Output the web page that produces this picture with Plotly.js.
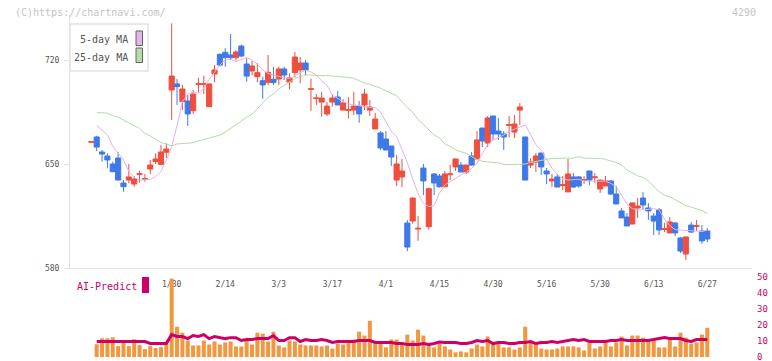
<!DOCTYPE html>
<html><head><meta charset="utf-8">
<script src="https://cdn.plot.ly/plotly-3.0.1.min.js"></script>
<style>html,body{margin:0;padding:0;background:#fff}#chart{width:772px;height:361px}</style>
</head><body><div id="chart"></div>
<script>
const dates = [
"2025-01-08","2025-01-09","2025-01-10","2025-01-14","2025-01-15","2025-01-16","2025-01-17","2025-01-20","2025-01-21","2025-01-22","2025-01-23","2025-01-24","2025-01-27","2025-01-28","2025-01-29","2025-01-30","2025-01-31",
"2025-02-03","2025-02-04","2025-02-05","2025-02-06","2025-02-07","2025-02-10","2025-02-12","2025-02-13","2025-02-14","2025-02-17","2025-02-18","2025-02-19","2025-02-20","2025-02-21","2025-02-25","2025-02-26","2025-02-27","2025-02-28",
"2025-03-03","2025-03-04","2025-03-05","2025-03-06","2025-03-07","2025-03-10","2025-03-11","2025-03-12","2025-03-13","2025-03-14","2025-03-17","2025-03-18","2025-03-19","2025-03-21","2025-03-24","2025-03-25","2025-03-26","2025-03-27","2025-03-28","2025-03-31",
"2025-04-01","2025-04-02","2025-04-03","2025-04-04","2025-04-07","2025-04-08","2025-04-09","2025-04-10","2025-04-11","2025-04-14","2025-04-15","2025-04-16","2025-04-17","2025-04-18","2025-04-21","2025-04-22","2025-04-23","2025-04-24","2025-04-25","2025-04-28","2025-04-30",
"2025-05-01","2025-05-02","2025-05-07","2025-05-08","2025-05-09","2025-05-12","2025-05-13","2025-05-14","2025-05-15","2025-05-16","2025-05-19","2025-05-20","2025-05-21","2025-05-22","2025-05-23","2025-05-26","2025-05-27","2025-05-28","2025-05-29","2025-05-30",
"2025-06-02","2025-06-03","2025-06-04","2025-06-05","2025-06-06","2025-06-09","2025-06-10","2025-06-11","2025-06-12","2025-06-13","2025-06-16","2025-06-17","2025-06-18","2025-06-19","2025-06-20","2025-06-23","2025-06-24","2025-06-25","2025-06-26","2025-06-27"];

const openP = [664.6,
668.2,658.1,655.4,650.0,654.0,637.2,639.2,636.5,643.0,639.7,
646.6,651.6,649.8,657.9,699.8,703.9,692.0,692.4,685.9,703.6,
703.6,688.6,710.6,723.8,725.2,723.4,721.6,729.4,717.3,712.6,
708.8,706.1,705.0,707.0,707.2,714.0,705.2,711.5,713.3,718.0,
700.2,694.0,691.7,683.7,691.7,695.1,686.3,686.1,686.3,689.0,
689.7,686.3,673.6,670.9,666.8,662.1,639.2,641.3,610.3,611.6,
606.2,647.3,607.8,643.3,641.9,634.7,642.8,648.0,649.3,644.6,
655.4,653.4,674.2,664.1,682.3,672.2,670.2,676.0,671.5,686.3,
668.2,649.3,651.3,657.4,645.3,638.6,641.3,635.6,631.2,641.3,
641.3,639.0,645.3,640.8,633.2,635.2,638.6,629.8,618.4,614.3,
609.6,620.4,627.1,620.4,615.0,619.1,606.0,603.6,610.3,600.2,
589.4,608.9,608.0,604.9,604.9];
const highP = [665.0,
669.0,659.4,657.2,651.6,658.1,639.2,650.0,641.9,645.5,643.3,
652.7,657.2,662.8,663.9,744.7,707.2,703.2,696.5,699.8,708.1,
709.5,704.3,716.6,724.5,727.9,737.5,726.7,730.5,721.1,719.3,
717.8,708.8,723.4,715.5,715.5,715.5,711.0,725.4,722.0,720.0,
707.5,697.1,698.5,691.7,697.1,699.1,693.7,695.1,698.5,692.4,
700.5,693.1,684.3,672.2,672.2,662.1,656.1,653.4,612.3,627.6,
615.0,650.0,634.1,643.9,643.3,645.3,649.3,653.6,651.3,649.5,
658.1,672.2,674.4,682.3,682.5,681.0,672.2,682.3,683.0,691.1,
668.4,654.0,657.4,657.6,647.3,643.3,643.3,641.9,653.4,644.0,
641.9,641.9,645.5,643.9,639.4,641.9,639.2,635.2,620.4,617.0,
624.0,627.1,631.2,623.8,617.0,620.4,610.3,614.3,611.0,600.9,
601.1,611.0,612.3,608.9,606.9];
const lowP = [664.4,
658.7,651.6,647.1,644.8,639.2,631.4,637.0,634.7,637.4,638.1,
643.3,650.0,649.3,653.8,679.6,689.7,686.4,675.6,683.7,698.3,
697.1,688.6,705.0,715.5,715.5,720.0,719.6,721.8,705.4,709.9,
705.0,693.8,703.2,703.2,703.2,706.5,700.3,708.3,704.3,709.9,
685.8,689.7,681.9,682.3,688.6,689.7,686.3,680.5,683.0,677.8,
686.3,682.3,673.6,659.4,659.4,648.7,635.2,634.5,591.4,609.8,
598.2,629.1,605.8,629.1,634.1,634.3,639.2,645.3,644.6,643.3,
648.7,652.7,661.4,661.4,666.2,666.2,659.4,668.0,667.5,676.3,
639.2,647.3,644.6,642.6,636.5,634.5,634.5,632.5,631.2,633.9,
633.9,636.5,635.9,637.2,630.5,635.2,629.1,623.1,613.7,608.3,
609.6,613.7,619.7,612.3,602.2,602.2,604.2,603.6,601.5,590.1,
585.4,603.6,604.9,596.2,597.5];
const closeP = [665.0,
661.4,656.7,652.7,644.8,639.2,634.7,641.3,639.9,643.5,640.1,
649.3,653.4,658.1,660.1,709.2,702.1,700.5,683.7,697.1,704.1,
704.1,703.9,713.3,716.6,721.6,721.6,725.4,722.7,709.2,716.0,
711.5,703.2,711.7,704.8,714.0,709.9,707.9,722.0,718.0,713.3,
700.6,694.4,694.4,689.0,694.4,689.7,691.1,686.6,689.0,683.7,
697.1,688.4,680.3,660.8,659.4,654.7,650.0,645.3,594.1,627.1,
606.7,638.6,633.4,637.2,634.7,643.3,643.3,653.4,644.6,649.3,
649.3,666.2,665.5,681.0,670.2,670.2,668.2,676.5,676.9,688.4,
639.2,651.3,655.4,648.0,643.3,639.9,634.5,636.1,643.3,634.5,
635.2,639.5,639.2,641.3,639.2,638.6,629.8,623.1,613.7,608.3,
623.8,621.7,622.4,618.4,611.6,605.6,606.5,611.0,603.6,591.4,
600.9,604.2,608.5,598.2,599.5];
const ma5 = [null,
676,673,669.5,662,657,652.7,645,641,639.2,639.2,
639.5,641.5,644.8,652.7,661.7,676,692,697,698.7,697.6,
701,707,712,716.6,720,720.5,719,720.5,721.6,720,
717,713.3,711,709.9,708.8,708,707.7,709,711.5,713.3,
712,709.9,706,703,696.4,694,692,690.5,689.7,689,
688.6,688.2,687.9,685,678,672,668.4,659.4,651,640,
630,623.5,621.3,622,630.3,635.9,638.5,640.5,642.6,644.5,
647.1,650.4,657,663,666.2,668,669.5,672,673.5,674.5,
676.3,670,663,659,653,647.1,643,640,639.2,639.5,
639.7,638.6,638.6,638.1,638.1,638.4,637,634.7,629.1,623,
620,619.1,619.1,619.5,620,619.1,613,608.5,605.8,605.5,
605.1,605.1,604.8,604.5,605.6];
const ma25 = [null,
684.6,684.6,684.3,682.5,681.5,679.5,677.5,675.5,674.0,670.5,
669,666.5,664.5,663.5,662.1,663.5,663.9,664,664.3,665.5,
666.6,667.3,668.5,669.5,671.5,674,677,679.5,681.4,683.5,
687,691,695,697.1,700.5,703,705.5,707.5,709,709.8,
709.9,709.5,709.5,709.5,709.3,709,708.8,708.3,707.7,706,
704.5,703.6,702.5,701,699.3,697.5,696,692,688,685,
680,676.5,673,669.5,667.5,663.5,661.8,659.5,658.2,657.2,
655,653,651.8,651.2,651,650.9,649.8,649.5,649.5,649.5,
650,651,651.6,652,653.1,653.8,653.8,653.8,653.8,654,
655,654,653.8,653.8,653.8,653.1,652,651.1,649.3,646,
644,642,641,638.5,635,631.5,629,628,626,624,
622,621,620,618.6,616.8];
const volume = [null,
8.0,11.7,11.7,12.3,6.8,9.3,6.8,11.1,7.4,4.9,
6.8,5.6,6.2,8.0,49.0,18.9,15.2,10.3,7.2,7.2,
10.3,7.8,9.7,7.8,9.1,9.7,6.6,6.6,10.3,7.8,
15.2,14.6,9.7,15.8,7.2,6.0,10.3,9.7,7.8,7.2,
7.2,7.2,6.6,7.2,5.3,8.4,7.8,9.7,10.9,15.8,
13.4,22.6,8.4,8.4,6.0,10.9,10.9,8.4,14.0,10.3,
17.1,13.4,8.4,6.0,8.4,6.6,4.7,2.9,3.5,2.9,
5.3,7.8,6.6,12.8,7.8,9.1,6.0,6.0,4.7,6.0,
18.9,9.1,8.4,5.3,4.7,4.7,5.3,6.6,6.6,6.6,
6.0,4.1,9.1,5.3,6.6,9.1,6.6,9.1,12.8,7.2,
13.4,13.4,12.1,9.7,10.3,6.0,6.0,10.9,6.6,15.2,
12.1,8.4,9.1,14.0,18.3];
const aiPredict = [null,
9.7,9.7,9.7,9.7,9.7,9.7,9.7,9.7,9.7,9.7,
8.5,8.5,8.5,8.5,14.0,12.8,12.8,11.5,13.4,12.8,
14.0,11.5,12.8,12.1,11.5,12.1,12.1,10.3,10.9,10.9,
11.5,11.5,11.5,13.4,10.3,10.3,12.1,12.1,9.7,10.9,
10.3,10.3,10.9,10.3,9.1,9.7,9.7,9.7,9.7,10.3,
10.3,10.3,9.1,9.1,9.1,9.1,8.4,8.4,7.8,7.8,
7.8,8.4,7.8,8.4,9.4,9.1,9.1,9.1,8.4,8.4,
9.1,10.3,9.7,10.3,8.4,9.1,9.1,8.4,8.4,9.1,
9.1,9.7,8.4,9.1,9.1,9.7,9.1,9.7,10.3,10.9,
10.3,10.9,9.7,9.7,9.7,9.7,10.3,10.3,10.9,10.3,
10.3,10.3,10.3,10.3,10.9,11.5,12.1,11.5,11.5,11.5,
10.3,9.7,10.9,10.9,10.9];
const tickDates = ["2025-01-30","2025-02-14","2025-03-03","2025-03-17","2025-04-01","2025-04-15","2025-04-30","2025-05-16","2025-05-30","2025-06-13","2025-06-27"];
const tickLabels = ["1/30","2/14","3/3","3/17","4/1","4/15","4/30","5/16","5/30","6/13","6/27"];
const priceTicks = [580, 650, 720];
const volTicks = [0, 10, 20, 30, 40, 50];
const legendNames = ["5-day MA", "25-day MA"];

const RED = "#ee4f3e", BLUE = "#3f79e8", PINK = "#e8b2ea", GREEN = "#b3dca6", MAG = "#cc0066", ORANGE = "#f29640";
const MONO = "DejaVu Sans Mono, monospace";

const traces = [
  {type:"scatter", mode:"lines", x:dates, y:ma25, line:{color:GREEN, width:1}, xaxis:"x", yaxis:"y", hoverinfo:"skip"},
  {type:"scatter", mode:"lines", x:dates, y:ma5, line:{color:PINK, width:1}, xaxis:"x", yaxis:"y", hoverinfo:"skip"},
  {type:"candlestick", x:dates, open:openP, high:highP, low:lowP, close:closeP, xaxis:"x", yaxis:"y",
   whiskerwidth:0,
   increasing:{line:{color:RED, width:1}, fillcolor:RED},
   decreasing:{line:{color:BLUE, width:1}, fillcolor:BLUE}},
  {type:"bar", x:dates, y:volume, marker:{color:ORANGE, line:{width:0}}, xaxis:"x2", yaxis:"y2", hoverinfo:"skip"},
  {type:"scatter", mode:"lines", x:dates, y:aiPredict, line:{color:MAG, width:3}, xaxis:"x2", yaxis:"y2", hoverinfo:"skip"}
];

const W = 682, H = 342, L = 70, T = 15;
const px = v => (v - L) / W;
const py = v => (T + H - v) / H;
const xr = [-3.985, 123.35];

const layout = {
  width:772, height:361,
  margin:{l:70, r:20, t:15, b:4},
  paper_bgcolor:"#fff", plot_bgcolor:"rgba(0,0,0,0)",
  showlegend:false, boxgap:0.04, boxgroupgap:0, bargap:0.25,
  font:{family:MONO, color:"#555"},
  xaxis:{type:"category", domain:[0,1], anchor:"y", range:xr, rangeslider:{visible:false},
    tickmode:"array", tickvals:tickDates, ticktext:tickLabels, ticks:"", ticklabelstandoff:8,
    tickfont:{family:MONO, size:8, color:"#555"}, showgrid:false, zeroline:false,
    showline:true, linecolor:"#e2e2e2", linewidth:1},
  yaxis:{domain:[py(268), 1], anchor:"x", range:[580, 750.3], tickmode:"array", tickvals:priceTicks,
    ticks:"outside", ticklen:5, tickcolor:"#e2e2e2", ticklabelstandoff:3,
    tickfont:{family:MONO, size:8, color:"#555"}, showgrid:false, zeroline:false,
    showline:true, linecolor:"#e2e2e2", linewidth:1},
  xaxis3:{overlaying:"x", anchor:"y", range:[0,11], tickmode:"linear", tick0:0, dtick:1,
    ticks:"outside", ticklen:5, tickcolor:"#e2e2e2", showticklabels:false, showgrid:false, zeroline:false, showline:false},
  xaxis4:{overlaying:"x", anchor:"y", range:[0,11], tickmode:"linear", tick0:0, dtick:1,
    ticks:"inside", ticklen:3, tickcolor:"#e2e2e2", showticklabels:false, showgrid:false, zeroline:false, showline:false},
  yaxis3:{overlaying:"y", anchor:"x", range:[580, 750.3], tickmode:"array", tickvals:priceTicks,
    ticks:"inside", ticklen:3, tickcolor:"#e2e2e2", showticklabels:false, showgrid:false, zeroline:false, showline:false},
  xaxis2:{type:"category", domain:[0,1], anchor:"y2", range:xr, visible:false, showgrid:false, zeroline:false},
  yaxis2:{domain:[0, py(277)], anchor:"x2", side:"right", range:[0,50], tickmode:"array", tickvals:volTicks,
    ticks:"", ticklabelstandoff:4, ticklabeloverflow:"allow", tickfont:{family:MONO, size:9, color:MAG},
    showgrid:false, zeroline:false, showline:false},
  shapes:[
    {type:"rect", xref:"paper", yref:"paper", x0:px(70), x1:px(148), y0:py(71), y1:py(24),
     line:{color:"#e2e2e2", width:1.5}, fillcolor:"#fff", layer:"above"},
    {type:"rect", xref:"paper", yref:"paper", x0:px(136), x1:px(142.5), y0:py(45.5), y1:py(31),
     line:{color:"#666", width:1}, fillcolor:PINK, layer:"above"},
    {type:"rect", xref:"paper", yref:"paper", x0:px(136), x1:px(142.5), y0:py(62.5), y1:py(48),
     line:{color:"#666", width:1}, fillcolor:GREEN, layer:"above"},
    {type:"rect", xref:"paper", yref:"paper", x0:px(142), x1:px(149), y0:py(293), y1:py(277),
     line:{width:0}, fillcolor:MAG, layer:"above"}
  ],
  annotations:[
    {xref:"paper", yref:"paper", x:px(13), y:py(12.5), xanchor:"left", yanchor:"middle", showarrow:false,
     text:"(C)https://chartnavi.com/", font:{family:MONO, size:10, color:"#c4c4c4"}},
    {xref:"paper", yref:"paper", x:px(758), y:py(12.5), xanchor:"right", yanchor:"middle", showarrow:false,
     text:"4290", font:{family:MONO, size:10, color:"#c4c4c4"}},
    {xref:"paper", yref:"paper", x:px(130), y:py(40), xanchor:"right", yanchor:"middle", showarrow:false,
     text:legendNames[0], font:{family:MONO, size:10, color:"#555"}},
    {xref:"paper", yref:"paper", x:px(130), y:py(57), xanchor:"right", yanchor:"middle", showarrow:false,
     text:legendNames[1], font:{family:MONO, size:10, color:"#555"}},
    {xref:"paper", yref:"paper", x:px(75), y:py(286), xanchor:"left", yanchor:"middle", showarrow:false,
     text:"AI-Predict", font:{family:MONO, size:10, color:MAG}}
  ]
};

Plotly.newPlot("chart", traces, layout, {staticPlot:true, displayModeBar:false});
</script></body></html>
